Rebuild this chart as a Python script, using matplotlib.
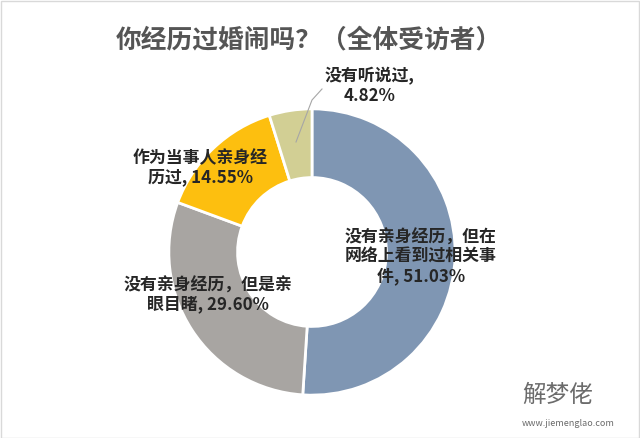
import matplotlib
matplotlib.use("Agg")
import matplotlib.pyplot as plt
from matplotlib.patches import Rectangle

plt.rcParams['font.family'] = ['Noto Sans CJK SC', 'DejaVu Sans']

title = "你经历过婚闹吗？（全体受访者）"
categories = ["没有亲身经历，但在\n网络上看到过相关事\n件, 51.03%",
              "没有亲身经历，但是亲\n眼目睹, 29.60%",
              "作为当事人亲身经\n历过, 14.55%",
              "没有听说过,\n4.82%"]
values = [51.03, 29.60, 14.55, 4.82]
colors = ["#7f96b3", "#a8a5a2", "#fdbf0f", "#d2cf94"]

W, H = 640, 438
fig = plt.figure(figsize=(W/100, H/100), dpi=100)
fig.patch.set_facecolor("white")

cx, cy, R = 312, 252, 146
ax = fig.add_axes([(cx-R)/W, (H-cy-R)/H, 2*R/W, 2*R/H])
ax.pie(values, colors=colors, startangle=90, counterclock=False, radius=1,
       wedgeprops=dict(width=0.48, edgecolor="white", linewidth=2))
ax.set_xlim(-1.02, 1.02)
ax.set_ylim(-1.02, 1.02)
ax.set_aspect("equal")
ax.axis("off")

fig.text(309/W, 1-40/H, title, ha="center", va="center", fontsize=18.5,
         fontweight="bold", color="#555555")

label_pos = [(421, 257), (208, 295), (200, 168), (370, 86)]
for txt, (x, y) in zip(categories, label_pos):
    fig.text(x/W, 1-y/H, txt, ha="center", va="center", fontsize=12.2,
             fontweight="bold", color="#262626", linespacing=1.1)

# leader line for smallest slice
fig.add_artist(plt.Line2D([296/W, 312/W, 322/W], [1-142/H, 1-100/H, 1-89/H],
                          color="#a6a6a6", linewidth=0.8))

# watermark text
fig.text(522/W, 1-395/H, "解梦佬", ha="left", va="center", fontsize=17,
         color="#6b6b6b")
fig.text(522/W, 1-424/H, "www.jiemenglao.com", ha="left", va="center",
         fontsize=6.5, color="#6b6b6b")

fig.add_artist(Rectangle((0.5/W, 0.5/H), 1-1.5/W, 1-1.5/H, transform=fig.transFigure,
                         fill=False, edgecolor="#d9d9d9", linewidth=1))

fig.savefig("out.png", dpi=100)
